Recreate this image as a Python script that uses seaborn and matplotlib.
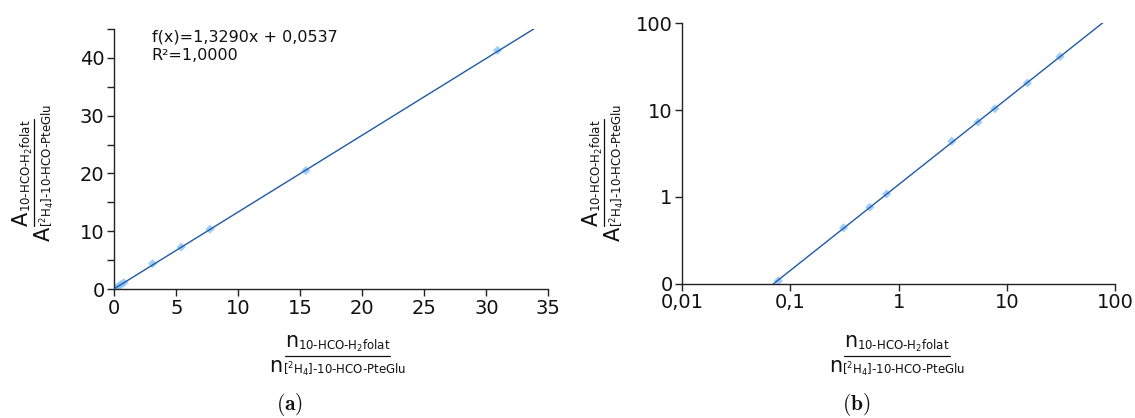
import numpy as np
import pandas as pd
import matplotlib
matplotlib.use("Agg")
import matplotlib.pyplot as plt
import matplotlib.transforms as mtransforms
from matplotlib.lines import Line2D
import seaborn as sns
from matplotlib.ticker import FixedLocator, FixedFormatter, NullLocator

# ---------------- data ----------------
n_ratio = [0.0772, 0.309, 0.54, 0.772, 3.09, 5.40, 7.72, 15.45, 30.9]
a_ratio = [0.108, 0.44, 0.76, 1.08, 4.38, 7.27, 10.36, 20.5, 41.3]
slope = 1.3290
intercept = 0.0537
r_squared = 1.0000

lin_xticks = [0, 5, 10, 15, 20, 25, 30, 35]
lin_yticks = [0, 10, 20, 30, 40]
lin_yminor = [5, 15, 25, 35, 45]
log_xticks = [0.01, 0.1, 1, 10, 100]
log_xlabels = ["0,01", "0,1", "1", "10", "100"]
log_yticks = [0.1, 1, 10, 100]
log_ylabels = ["0", "1", "10", "100"]

num_sub = r"$\text{10-HCO-H}_{2}\text{folat}$"
den_sub = r"$\text{[}^{2}\text{H}_{4}\text{]-10-HCO-PteGlu}$"

df = pd.DataFrame({"n": n_ratio, "a": a_ratio})

sns.set_theme(style="ticks")
plt.rcParams["font.family"] = ["DejaVu Sans"]
plt.rcParams["mathtext.fontset"] = "dejavusans"

point_color = "#8cc4f5"
line_color = "#1f5aa6"
txt_color = "#111111"

DPI = 100
fig = plt.figure(figsize=(11.35, 4.18), dpi=DPI)
ax1 = fig.add_axes([0.1007, 0.3086, 0.3824, 0.6220])
ax2 = fig.add_axes([0.6011, 0.3213, 0.3815, 0.6230])
renderer = fig.canvas.get_renderer()


def text_width_pt(s, size):
    t = fig.text(0, 0, s, fontsize=size)
    w = t.get_window_extent(renderer).width * 72.0 / DPI
    t.remove()
    return w


def draw_fraction(ax, x, y, big, nsub, dsub, rot, big_size=15, sub_size=8.5,
                  v_nb=4.5, v_ns=2.3, v_db=-11.5, v_ds=-13.2):
    """Stacked fraction label anchored (bar centre) at axes fraction (x, y).
    local u along text, v perpendicular (points)."""
    trans = mtransforms.Affine2D().scale(DPI / 72.0) + \
        mtransforms.ScaledTranslation(x, y, ax.transAxes)
    wb = text_width_pt(big, big_size)
    wn = wb + text_width_pt(nsub, sub_size)
    wd = wb + text_width_pt(dsub, sub_size)

    def put(u, v, s, size):
        px, py = (u, v) if rot == 0 else (-v, u)
        ax.text(px, py, s, transform=trans, rotation=rot, rotation_mode="anchor",
                ha="left", va="baseline", fontsize=size, color=txt_color,
                clip_on=False)

    put(-wn / 2, v_nb, big, big_size)
    put(-wn / 2 + wb, v_ns, nsub, sub_size)
    put(-wd / 2, v_db, big, big_size)
    put(-wd / 2 + wb, v_ds, dsub, sub_size)
    if rot == 0:
        bar = Line2D([-wn / 2, wn / 2], [0, 0], transform=trans)
    else:
        bar = Line2D([0, 0], [-wn / 2, wn / 2], transform=trans)
    bar.set_color(txt_color)
    bar.set_linewidth(0.9)
    bar.set_clip_on(False)
    ax.add_artist(bar)


# ---------- (a) linear ----------
sns.scatterplot(data=df, x="n", y="a", ax=ax1, marker="D", s=22,
                color=point_color, edgecolor="none", alpha=0.8, zorder=2)
fit_x = np.linspace(0, 35, 200)
fit_df = pd.DataFrame({"x": fit_x, "y": slope * fit_x + intercept})
sns.lineplot(data=fit_df, x="x", y="y", ax=ax1, color=line_color, lw=1.0, zorder=3)
ax1.set_xlim(0, 35)
ax1.set_ylim(0, 45)
ax1.xaxis.set_major_locator(FixedLocator(lin_xticks))
ax1.yaxis.set_major_locator(FixedLocator(lin_yticks))
ax1.yaxis.set_minor_locator(FixedLocator(lin_yminor))
ax1.text(0.086, 1.0,
         "f(x)=" + f"{slope:.4f}".replace(".", ",") + "x + "
         + f"{intercept:.4f}".replace(".", ",") + "\n"
         + "R²=" + f"{r_squared:.4f}".replace(".", ","),
         transform=ax1.transAxes, ha="left", va="top", fontsize=11.5,
         linespacing=1.3, color=txt_color)

# ---------- (b) log-log ----------
sns.scatterplot(data=df, x="n", y="a", ax=ax2, marker="D", s=22,
                color=point_color, edgecolor="none", alpha=0.8, zorder=2)
coef = np.polyfit(np.log10(df["n"]), np.log10(df["a"]), 1)
lx = np.logspace(-2, 2, 400)
log_df = pd.DataFrame({"x": lx, "y": 10 ** (coef[1]) * lx ** coef[0]})
sns.lineplot(data=log_df, x="x", y="y", ax=ax2, color=line_color, lw=1.0, zorder=3)
ax2.set_xscale("log")
ax2.set_yscale("log")
ax2.set_xlim(0.01, 100)
ax2.set_ylim(0.1, 100)
ax2.xaxis.set_major_locator(FixedLocator(log_xticks))
ax2.xaxis.set_major_formatter(FixedFormatter(log_xlabels))
ax2.yaxis.set_major_locator(FixedLocator(log_yticks))
ax2.yaxis.set_major_formatter(FixedFormatter(log_ylabels))
ax2.xaxis.set_minor_locator(NullLocator())
ax2.yaxis.set_minor_locator(NullLocator())

for ax in (ax1, ax2):
    sns.despine(ax=ax)
    for s in ("left", "bottom"):
        ax.spines[s].set_color("#222222")
        ax.spines[s].set_linewidth(1.0)
    ax.tick_params(which="both", length=5, width=1.0, color="#222222",
                   labelsize=14, labelcolor=txt_color, pad=2)
    ax.set_xlabel("")
    ax.set_ylabel("")
    ax.grid(False)
    ax.set_facecolor("white")
    leg = ax.get_legend()
    if leg is not None:
        leg.remove()

# axis labels as stacked fractions
draw_fraction(ax1, 0.5145, -0.2565, "n", num_sub, den_sub, 0, v_nb=6.5, v_ns=4.2)
draw_fraction(ax2, 0.496, -0.2765, "n", num_sub, den_sub, 0, v_nb=6.5, v_ns=4.2)
draw_fraction(ax1, -0.185, 0.448, "A", num_sub, den_sub, 90)
draw_fraction(ax2, -0.181, 0.427, "A", num_sub, den_sub, 90)

fig.text(290 / 1135, 1 - 405 / 418, r"$\mathbf{(a)}$", ha="center", va="center",
         fontsize=15.5, math_fontfamily="cm", color=txt_color)
fig.text(856 / 1135, 1 - 405 / 418, r"$\mathbf{(b)}$", ha="center", va="center",
         fontsize=15.5, math_fontfamily="cm", color=txt_color)

fig.savefig("out.png", dpi=DPI, facecolor="white")
